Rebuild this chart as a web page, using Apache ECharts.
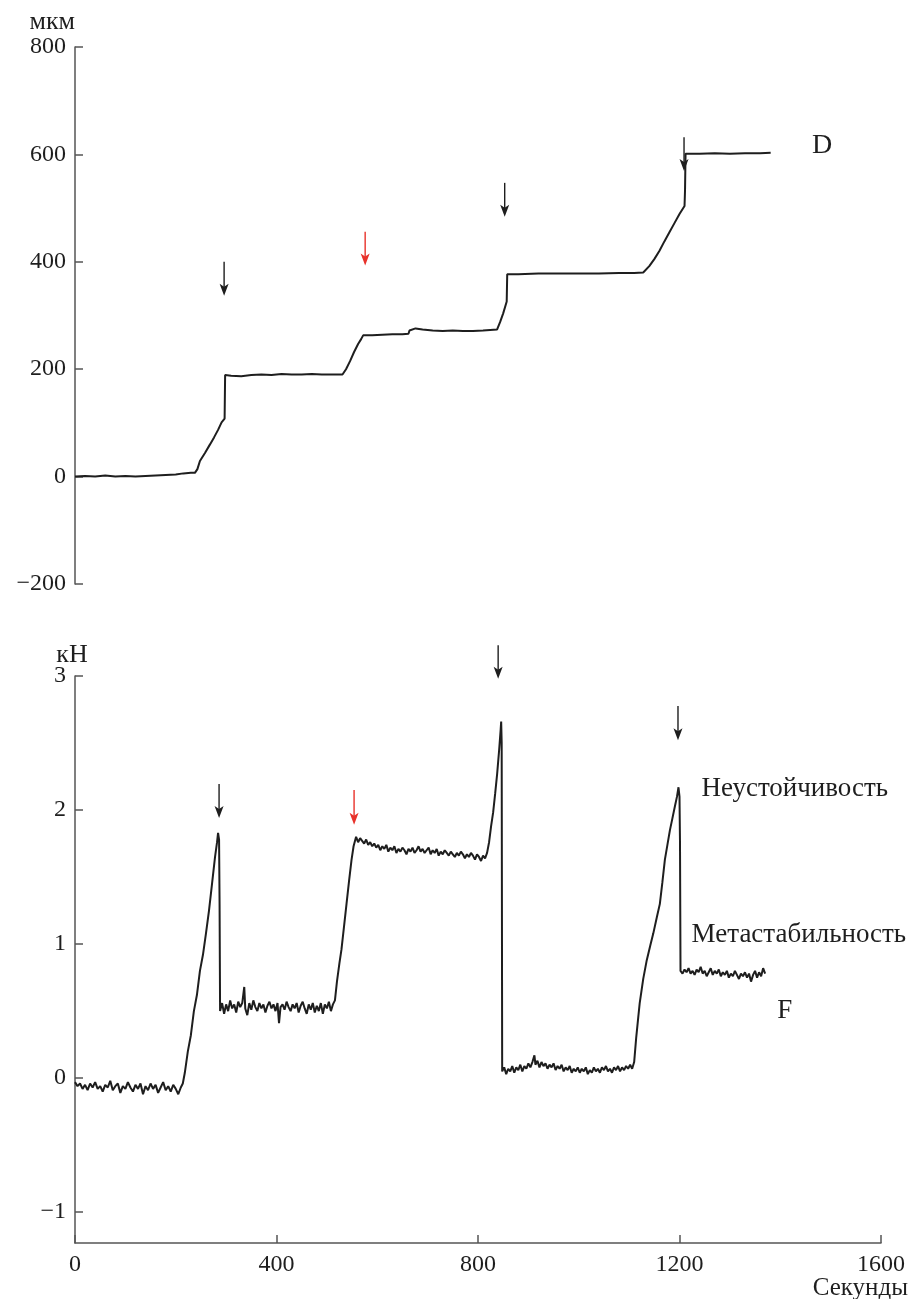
<!DOCTYPE html>
<html>
<head>
<meta charset="utf-8">
<script src="https://cdn.jsdelivr.net/npm/echarts@6/dist/echarts.min.js"></script>
<style>
  html, body { margin: 0; padding: 0; background: #fff; }
  #stage { width: 910px; height: 1299px; }
</style>
</head>
<body>
<div id="stage"></div>
<script>
'use strict';

const myChart = echarts.init(document.getElementById('stage'));

// ось времени, секунды
const X_TICKS = [0, 400, 800, 1200, 1600];
const D_TICKS = [-200, 0, 200, 400, 600, 800];
const F_TICKS = [-1, 0, 1, 2, 3];

// перемещение D, мкм  [t, value]
const dTrace = [
  [0,0],[20,1],[40,0],[60,2],[80,0],[100,1],[120,0],[140,1],[160,2],[180,3],[200,4],[215,6],[230,7],
  [238,7],[243,14],[248,29],[258,44],[268,60],[276,73],[284,87],[291,101],[297,108],[298,189],
  [310,188],[330,187],[350,189],[370,190],[390,189],[410,191],[430,190],[450,190],[470,191],[490,190],[510,190],[531,190],
  [538,200],[546,215],[554,232],[562,247],[568,256],[572,263],
  [590,263],[610,264],[630,265],[650,265],[662,266],[664,272],[676,276],[690,274],[710,272],[730,271],
  [750,272],[770,271],[790,271],[810,272],[838,274],[844,288],[850,304],[857,326],[858,377],
  [880,377],[920,378],[960,378],[1000,378],[1040,378],[1080,379],[1110,379],[1128,380],
  [1140,392],[1150,405],[1160,420],[1170,438],[1180,455],[1190,472],[1200,489],[1210,504],[1211,534],[1212,601],
  [1240,601],[1270,602],[1300,601],[1330,602],[1360,602],[1381,603]
];

// сила F, кН  [t, value]
const fTrace = [
  [0,-0.03],[5,-0.06],[10,-0.04],[15,-0.08],[20,-0.05],[25,-0.09],[30,-0.04],[35,-0.07],[40,-0.03],[45,-0.08],
  [50,-0.06],[55,-0.1],[60,-0.05],[65,-0.07],[70,-0.02],[75,-0.09],[80,-0.06],[85,-0.04],[90,-0.11],[95,-0.06],
  [100,-0.08],[105,-0.03],[110,-0.07],[115,-0.1],[120,-0.05],[125,-0.08],[130,-0.04],[135,-0.12],[140,-0.06],[145,-0.09],
  [150,-0.04],[155,-0.08],[160,-0.05],[165,-0.11],[170,-0.07],[175,-0.03],[180,-0.09],[185,-0.06],[190,-0.1],[195,-0.05],
  [200,-0.08],[205,-0.12],[210,-0.07],[214,-0.04],
  [218,0.04],[224,0.2],[230,0.32],[236,0.5],[242,0.62],[248,0.8],[254,0.92],[260,1.08],[266,1.25],[272,1.45],
  [278,1.65],[282,1.76],[284,1.83],[286,1.78],[287,1.3],[288,0.5],
  [292,0.56],[296,0.48],[300,0.55],[304,0.5],[308,0.58],[312,0.52],[316,0.55],[320,0.49],[324,0.57],[328,0.53],
  [332,0.56],[336,0.68],[338,0.52],[342,0.47],[346,0.56],[350,0.51],[354,0.58],[358,0.53],[362,0.5],[366,0.56],
  [370,0.52],[374,0.55],[378,0.49],[382,0.54],[386,0.57],[390,0.52],[394,0.55],[398,0.5],[402,0.56],[405,0.41],
  [408,0.53],[412,0.55],[416,0.51],[420,0.57],[424,0.53],[428,0.5],[432,0.55],[436,0.52],[440,0.56],[444,0.49],
  [448,0.54],[452,0.57],[456,0.52],[460,0.48],[464,0.55],[468,0.51],[472,0.56],[476,0.49],[480,0.54],[484,0.5],
  [488,0.56],[492,0.48],[496,0.55],[500,0.52],[504,0.57],[508,0.5],[512,0.55],
  [516,0.58],[520,0.72],[525,0.86],[529,0.96],[534,1.13],[539,1.3],[544,1.47],[549,1.63],[553,1.73],[558,1.8],
  [562,1.76],[566,1.79],[570,1.77],[574,1.75],[578,1.78],[582,1.74],[586,1.76],[590,1.73],[594,1.75],[598,1.72],
  [602,1.74],[606,1.7],[610,1.73],[614,1.71],[618,1.74],[622,1.69],[626,1.72],[630,1.7],[634,1.73],[638,1.68],
  [642,1.71],[646,1.69],[650,1.72],[654,1.7],[658,1.67],[662,1.71],[666,1.69],[670,1.72],[674,1.68],[678,1.7],
  [682,1.73],[686,1.69],[690,1.71],[694,1.68],[698,1.7],[702,1.72],[706,1.67],[710,1.7],[714,1.68],[718,1.71],
  [722,1.66],[726,1.69],[730,1.67],[734,1.7],[738,1.68],[742,1.66],[746,1.69],[750,1.67],[754,1.65],[758,1.68],
  [762,1.66],[766,1.69],[770,1.67],[774,1.64],[778,1.67],[782,1.65],[786,1.68],[790,1.66],[794,1.63],[798,1.67],
  [802,1.65],[806,1.62],[810,1.66],[814,1.64],[818,1.68],
  [822,1.76],[826,1.88],[830,1.98],[834,2.12],[838,2.27],[842,2.45],[845,2.6],[846,2.66],[847,2.5],[848,0.05],
  [852,0.08],[856,0.03],[860,0.07],[864,0.05],[868,0.09],[872,0.04],[876,0.08],[880,0.06],[884,0.1],[888,0.05],
  [892,0.09],[896,0.07],[900,0.11],[904,0.08],[908,0.12],[912,0.17],[914,0.1],[918,0.13],[922,0.08],[926,0.12],
  [930,0.09],[934,0.11],[938,0.07],[942,0.1],[946,0.08],[950,0.11],[954,0.06],[958,0.09],[962,0.07],[966,0.1],
  [970,0.05],[974,0.08],[978,0.06],[982,0.09],[986,0.04],[990,0.07],[994,0.05],[998,0.08],[1002,0.04],[1006,0.07],
  [1010,0.05],[1014,0.08],[1018,0.03],[1022,0.06],[1026,0.04],[1030,0.08],[1034,0.05],[1038,0.07],[1042,0.04],[1046,0.08],
  [1050,0.06],[1054,0.09],[1058,0.05],[1062,0.07],[1066,0.04],[1070,0.08],[1074,0.06],[1078,0.09],[1082,0.05],[1086,0.08],
  [1090,0.06],[1094,0.09],[1098,0.07],[1102,0.1],[1106,0.07],
  [1110,0.12],[1114,0.3],[1118,0.45],[1121,0.56],[1128,0.74],[1135,0.88],[1142,0.99],[1148,1.08],[1155,1.2],[1161,1.3],
  [1166,1.46],[1171,1.63],[1176,1.74],[1181,1.85],[1186,1.94],[1191,2.03],[1195,2.1],[1198,2.17],[1200,2.1],[1201,1.75],[1202,0.8],
  [1206,0.78],[1210,0.81],[1214,0.79],[1218,0.82],[1222,0.78],[1226,0.8],[1230,0.77],[1234,0.81],[1238,0.79],[1242,0.83],
  [1246,0.78],[1250,0.8],[1254,0.76],[1258,0.79],[1262,0.82],[1266,0.77],[1270,0.8],[1274,0.78],[1278,0.81],[1282,0.76],
  [1286,0.79],[1290,0.77],[1294,0.8],[1298,0.75],[1302,0.78],[1306,0.76],[1310,0.8],[1314,0.77],[1318,0.74],[1322,0.78],
  [1326,0.76],[1330,0.79],[1334,0.75],[1338,0.78],[1342,0.72],[1346,0.77],[1350,0.8],[1354,0.75],[1358,0.79],[1362,0.76],
  [1366,0.82],[1370,0.78]
];

// стрелки: [t, верх, низ, красная?]
const dArrows = [[296, 400, 337, false], [576, 456, 393, true], [853, 547, 484, false], [1209, 632, 569, false]];
const fArrows = [[286, 2.195, 1.94, false], [554, 2.15, 1.89, true], [840, 3.23, 2.98, false], [1197, 2.776, 2.52, false]];

// подписи: [текст, t, value]
const dNotes = [['D', 1483, 617]];
const fNotes = [['Неустойчивость', 1429, 2.16], ['Метастабильность', 1437, 1.07], ['F', 1409, 0.5]];

const FONT = 'Liberation Serif';
const INK = '#1e1e1e';
const AXIS = '#555';
const RED = '#e8322b';

// минус как в типографике, без разделителей тысяч
const fmt = v => String(v).replace('-', '\u2212');

function notes(list) {
  return list.map(n => ({name: n[0], coord: [n[1], n[2]]}));
}

const yAxisBase = {
  type: 'value',
  splitLine: {show: false},
  axisLine: {show: true, onZero: false, lineStyle: {color: AXIS, width: 1.5}},
  axisTick: {show: true, inside: true, length: 8, lineStyle: {color: AXIS, width: 1.5}},
  axisLabel: {color: INK, fontFamily: FONT, fontSize: 24, margin: 9, formatter: fmt},
  nameLocation: 'end',
  nameMoveOverlap: false,
  nameTextStyle: {color: INK, fontFamily: FONT, fontSize: 26, align: 'right', verticalAlign: 'bottom'}
};

const noteLabel = size => ({show: true, position: 'inside', formatter: '{b}', color: INK, fontFamily: FONT, fontSize: size});

const option = {
  animation: false,
  backgroundColor: '#fff',
  grid: [
    {left: 75, right: 29, top: 47, bottom: 1299 - 584, outerBoundsMode: 'none', containLabel: false},
    {left: 75, right: 29, top: 676, bottom: 1299 - 1243, outerBoundsMode: 'none', containLabel: false}
  ],
  xAxis: [
    {gridIndex: 0, type: 'value', min: 0, max: 1600, show: false},
    {
      gridIndex: 1, type: 'value', min: 0, max: 1600, interval: 400,
      splitLine: {show: false},
      axisLine: {show: true, onZero: false, lineStyle: {color: AXIS, width: 1.5}},
      axisTick: {show: true, inside: true, length: 8, lineStyle: {color: AXIS, width: 1.5}},
      axisLabel: {color: INK, fontFamily: FONT, fontSize: 24, margin: 10, formatter: fmt,
        customValues: X_TICKS},
      name: 'Секунды',
      nameLocation: 'end',
      nameGap: 27,
      nameMoveOverlap: false,
      nameTextStyle: {color: INK, fontFamily: FONT, fontSize: 25, align: 'right', verticalAlign: 'top', padding: [33, 0, 0, 0]}
    }
  ],
  yAxis: [
    Object.assign({}, yAxisBase, {
      gridIndex: 0, min: -200, max: 800, interval: 200,
      name: 'мкм', nameGap: 12
    }),
    Object.assign({}, yAxisBase, {
      gridIndex: 1, min: -1.23, max: 3,
      axisTick: Object.assign({}, yAxisBase.axisTick, {customValues: F_TICKS}),
      axisLabel: Object.assign({}, yAxisBase.axisLabel, {customValues: F_TICKS}),
      name: 'кН', nameGap: 8,
      nameTextStyle: Object.assign({}, yAxisBase.nameTextStyle, {align: 'center', padding: [0, 0, 0, -6]})
    })
  ],
  series: [
    {
      name: 'D',
      type: 'line',
      xAxisIndex: 0, yAxisIndex: 0,
      data: dTrace,
      showSymbol: false,
      lineStyle: {color: INK, width: 2},
      markPoint: {
        silent: true, symbol: 'circle', symbolSize: 1, itemStyle: {color: 'rgba(0,0,0,0)'},
        label: noteLabel(28), data: notes(dNotes)
      }
    },
    {
      name: 'F',
      type: 'line',
      xAxisIndex: 1, yAxisIndex: 1,
      data: fTrace,
      showSymbol: false,
      lineStyle: {color: INK, width: 2},
      markPoint: {
        silent: true, symbol: 'circle', symbolSize: 1, itemStyle: {color: 'rgba(0,0,0,0)'},
        label: noteLabel(27), data: notes(fNotes)
      }
    }
  ]
};

myChart.setOption(option);

// стрелки рисуются по координатам данных (одна выходит выше оси, поэтому не markLine)
function arrowGraphic(gridIndex, list) {
  return list.map(a => {
    const p0 = myChart.convertToPixel({gridIndex: gridIndex}, [a[0], a[1]]);
    const p1 = myChart.convertToPixel({gridIndex: gridIndex}, [a[0], a[2]]);
    const c = a[3] ? RED : INK;
    return {
      type: 'group', silent: true,
      children: [
        {type: 'line', shape: {x1: p0[0], y1: p0[1], x2: p1[0], y2: p1[1] - 6}, style: {stroke: c, lineWidth: 1.4}},
        {type: 'polygon', shape: {points: [[p1[0] - 4.5, p1[1] - 12], [p1[0], p1[1] - 9], [p1[0] + 4.5, p1[1] - 12], [p1[0], p1[1]]]},
          style: {fill: c}}
      ]
    };
  });
}

myChart.setOption({graphic: arrowGraphic(0, dArrows).concat(arrowGraphic(1, fArrows))});
</script>
</body>
</html>
